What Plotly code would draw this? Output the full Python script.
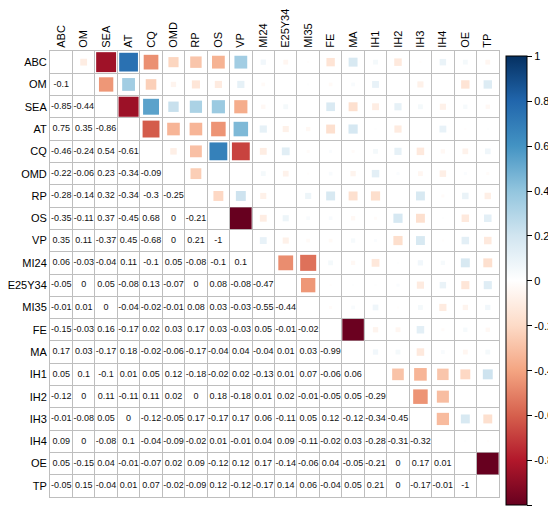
import math
import plotly.graph_objects as go

names = ["ABC", "OM", "SEA", "AT", "CQ", "OMD", "RP", "OS", "VP", "MI24", "E25Y34",
         "MI35", "FE", "MA", "IH1", "IH2", "IH3", "IH4", "OE", "TP"]

# lower triangle rows (row i holds correlations with columns 0..i-1)
r_OM = [-0.1]
r_SEA = [-0.85, -0.44]
r_AT = [0.75, 0.35, -0.86]
r_CQ = [-0.46, -0.24, 0.54, -0.61]
r_OMD = [-0.22, -0.06, 0.23, -0.34, -0.09]
r_RP = [-0.28, -0.14, 0.32, -0.34, -0.3, -0.25]
r_OS = [-0.35, -0.11, 0.37, -0.45, 0.68, 0, -0.21]
r_VP = [0.35, 0.11, -0.37, 0.45, -0.68, 0, 0.21, -1]
r_MI24 = [0.06, -0.03, -0.04, 0.11, -0.1, 0.05, -0.08, -0.1, 0.1]
r_E25Y34 = [-0.05, 0, 0.05, -0.08, 0.13, -0.07, 0, 0.08, -0.08, -0.47]
r_MI35 = [-0.01, 0.01, 0, -0.04, -0.02, -0.01, 0.08, 0.03, -0.03, -0.55, -0.44]
r_FE = [-0.15, -0.03, 0.16, -0.17, 0.02, 0.03, 0.17, 0.03, -0.03, 0.05, -0.01, -0.02]
r_MA = [0.17, 0.03, -0.17, 0.18, -0.02, -0.06, -0.17, -0.04, 0.04, -0.04, 0.01, 0.03, -0.99]
r_IH1 = [0.05, 0.1, -0.1, 0.01, 0.05, 0.12, -0.18, -0.02, 0.02, -0.13, 0.01, 0.07, -0.06, 0.06]
r_IH2 = [-0.12, 0, 0.11, -0.11, 0.11, 0.02, 0, 0.18, -0.18, 0.01, 0.02, -0.01, -0.05, 0.05, -0.29]
r_IH3 = [-0.01, -0.08, 0.05, 0, -0.12, -0.05, 0.17, -0.17, 0.17, 0.06, -0.11, 0.05, 0.12, -0.12,
         -0.34, -0.45]
r_IH4 = [0.09, 0, -0.08, 0.1, -0.04, -0.09, -0.02, 0.01, -0.01, 0.04, 0.09, -0.11, -0.02, 0.03,
         -0.28, -0.31, -0.32]
r_OE = [0.05, -0.15, 0.04, -0.01, -0.07, 0.02, 0.09, -0.12, 0.12, 0.17, -0.14, -0.06, 0.04, -0.05,
        -0.21, 0, 0.17, 0.01]
r_TP = [-0.05, 0.15, -0.04, 0.01, 0.07, -0.02, -0.09, 0.12, -0.12, -0.17, 0.14, 0.06, -0.04, 0.05,
        0.21, 0, -0.17, -0.01, -1]

lower_rows = [[], r_OM, r_SEA, r_AT, r_CQ, r_OMD, r_RP, r_OS, r_VP, r_MI24, r_E25Y34, r_MI35,
              r_FE, r_MA, r_IH1, r_IH2, r_IH3, r_IH4, r_OE, r_TP]

cb_vals = [1, 0.8, 0.6, 0.4, 0.2, 0, -0.2, -0.4, -0.6, -0.8, -1]
cb_text = ["1", "0.8", "0.6", "0.4", "0.2", "0", "-0.2", "-0.4", "-0.6", "-0.8", "-1"]

rdbu = ["#67001F", "#B2182B", "#D6604D", "#F4A582", "#FDDBC7", "#FFFFFF",
        "#D1E5F0", "#92C5DE", "#4393C3", "#2166AC", "#053061"]
colorscale = [[k / 10, c] for k, c in enumerate(rdbu)]

n = len(names)
M = [[None] * n for _ in range(n)]
for i, row in enumerate(lower_rows):
    for j, v in enumerate(row):
        M[i][j] = v
        M[j][i] = v


def fmt(v):
    s = ("%.2f" % v).rstrip("0").rstrip(".")
    if s in ("-0", ""):
        s = "0"
    return s


# page body has an 8px default margin; size the figure to fill the rest of the window
W, H = 548, 501
ml, mr, mt, mb = 42, 57, 43, 12
cell = min((W - ml - mr) / n, (H - mt - mb) / n)

# lower triangle numbers
tx, ty, tt = [], [], []
for i in range(n):
    for j in range(i):
        tx.append(j)
        ty.append(i)
        tt.append(fmt(M[i][j]))

# upper triangle squares
sx, sy, sv, ss = [], [], [], []
for i in range(n):
    for j in range(i + 1, n):
        v = M[i][j]
        sx.append(j)
        sy.append(i)
        sv.append(v)
        ss.append(cell * math.sqrt(abs(v)) * 0.97)

fig = go.Figure()
fig.add_trace(go.Scatter(
    x=sx, y=sy, mode="markers",
    marker=dict(symbol="square", size=ss, color=sv, colorscale=colorscale, cmin=-1, cmax=1,
                opacity=1, line=dict(width=0),
                colorbar=dict(
                    x=1.015, xanchor="left", y=0.988, yanchor="top",
                    lenmode="pixels", len=449,
                    thickness=21, xpad=0, ypad=0,
                    outlinewidth=1, outlinecolor="black",
                    tickvals=cb_vals, ticktext=cb_text,
                    ticks="outside", ticklen=5, tickcolor="black",
                    tickfont=dict(size=11, color="black"),
                )),
    hoverinfo="skip", showlegend=False,
))
fig.add_trace(go.Scatter(
    x=tx, y=ty, mode="text", text=tt,
    textfont=dict(size=9, color="#111111", family="Liberation Sans, Arial, sans-serif"),
    textposition="middle center",
    hoverinfo="skip", showlegend=False,
))

grid = dict(tickvals=[k + 0.5 for k in range(n - 1)], showgrid=True, gridcolor="#BEBEBE",
            gridwidth=1, ticks="")
fig.update_xaxes(range=[-0.5, n - 0.5], tickvals=list(range(n)), ticktext=names,
                 side="top", tickangle=-90, showgrid=False, zeroline=False,
                 showline=True, mirror=True, linecolor="#BEBEBE", linewidth=1,
                 ticks="", minor=grid, tickfont=dict(size=11, color="black"),
                 ticklabelstandoff=0, automargin=False, fixedrange=True)
fig.update_yaxes(range=[n - 0.5, -0.5], tickvals=list(range(n)), ticktext=names,
                 showgrid=False, zeroline=False,
                 showline=True, mirror=True, linecolor="#BEBEBE", linewidth=1,
                 ticks="", minor=grid, tickfont=dict(size=11, color="black"),
                 ticklabelstandoff=0, automargin=False, fixedrange=True)
fig.update_layout(
    width=W, height=H,
    margin=dict(l=ml, r=mr, t=mt, b=mb, autoexpand=False),
    plot_bgcolor="white", paper_bgcolor="white",
    font=dict(family="Liberation Sans, Arial, sans-serif", color="black"),
)
fig.write_html("out.html")
